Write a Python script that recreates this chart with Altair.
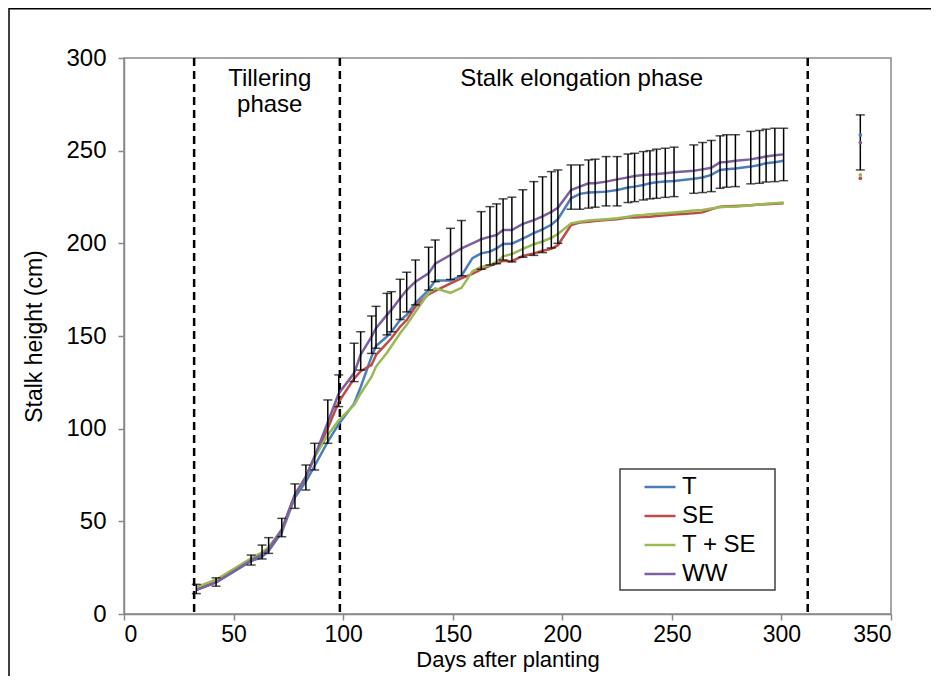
import altair as alt
import pandas as pd

# ---------------- data ----------------
days = [33, 42, 58, 63, 66, 72, 78, 83, 87, 93,
        98, 105, 108, 113, 115, 120, 122, 126, 129, 133,
        139, 142, 149, 154, 159, 163, 167, 170, 173, 177,
        182, 187, 191, 195, 198, 204, 208, 212, 215, 220,
        225, 230, 233, 237, 240, 243, 247, 251, 260, 264,
        268, 272, 275, 279, 286, 290, 293, 297, 301]

t_vals = [13, 17, 28.5, 30.8, 34, 44, 63, 71.5, 80, 93,
          102.5, 113.5, 122.5, 139, 144.6, 149.7, 152.3, 158.6, 161.4, 167.7,
          174.8, 179.9, 179.9, 182.5, 192, 194.6, 195.5, 197.3, 199.6, 199.8,
          202.6, 205.5, 207.5, 210, 213, 224.3, 226.7, 227.4, 227.6, 227.9,
          228.8, 230.1, 230.6, 231.5, 232.4, 232.9, 233.3, 233.6, 234.8, 235.5,
          236.9, 239.6, 240, 240.4, 241.4, 242.3, 243.2, 243.8, 244.5]

se_vals = [13, 17.5, 29, 31.8, 35, 45.3, 64.2, 74, 85, 100.2,
           114.5, 127, 131, 134.4, 139.8, 146.1, 148.8, 155, 158.6, 165.9,
           172.5, 174.3, 178.4, 181.1, 183.5, 186, 187.8, 189.2, 190.5, 190.4,
           193.2, 194.5, 196, 197, 199, 209.9, 211.2, 211.7, 212.1, 212.6,
           213, 213.9, 214, 214.2, 214.4, 214.8, 215.1, 215.5, 216.2, 216.7,
           218.4, 219.8, 220, 220.2, 220.6, 220.9, 221.1, 221.4, 221.6]

tse_vals = [14.5, 18.5, 30, 33.3, 36, 45.5, 64.5, 74, 84.5, 96.6,
            104.5, 112.8, 119, 128, 133.5, 141, 144.5, 151.5, 156, 163,
            173.2, 175.7, 173.3, 176, 185, 187.2, 188.3, 190, 193, 194.2,
            197, 199.5, 201, 203, 205, 210.8, 211.7, 212.3, 212.6, 213,
            213.5, 214.4, 215, 215.3, 215.7, 215.9, 216.2, 216.6, 217.7, 218,
            218.8, 219.5, 219.7, 219.8, 220.6, 220.9, 221.3, 221.6, 222]

ww_vals = [13, 17, 29, 32, 35, 45.5, 64.5, 74, 85, 103.5,
           119, 130, 140, 149.7, 154.2, 161.4, 164.1, 170.4, 174.8, 179.3,
           183.8, 189, 193.7, 197.3, 200, 202.2, 203.6, 204.5, 207.2, 207.2,
           210.5, 212.5, 214.5, 217, 219.2, 228.8, 230.6, 232.4, 232.4, 233.3,
           234.5, 235.6, 236.3, 236.9, 237.2, 237.4, 237.8, 238.3, 239.2, 239.9,
           240.8, 243.7, 243.9, 244.5, 245.3, 246.2, 246.8, 247.5, 248]

err_low = [11, 15, 26.4, 29.7, 32.7, 41.7, 57, 66.9, 77.7, 92.1,
           111.9, 125.4, 131.6, 140.6, 143.4, 150.6, 152.3, 158.9, 163, 166.8,
           174.8, 179.3, 180.5, 182.5, None, 186, 188.3, 189, 191, 190,
           192.5, 193.5, 195, 197.5, 200, 218.4, 218.4, 219, 219.5, 220.2,
           220.2, 222, 222.5, 223.4, 224, 224.3, 224.8, 225.2, 227, 227.4,
           227.9, 229.7, 230.3, 230.6, 232.1, 232.4, 233.1, 233.3, 233.8]

err_high = [16, 19.5, 31.8, 37.2, 41.2, 51.6, 70.2, 80.4, 92.1, 115.5,
            129, 146.1, 152.3, 160.8, 166, 173, 173.9, 180.6, 184.4, 191,
            197.9, 201.8, 208.1, 212.3, None, 217.1, 219.8, 221.3, 224, 224.9,
            228.9, 233.3, 235.9, 238.7, 239.6, 242.3, 242.3, 245, 245.4, 246.8,
            246.8, 248.2, 248.6, 249.5, 250, 250.8, 251.3, 251.9, 253.1, 254.4,
            255.5, 258, 258.6, 258.6, 260.4, 260.9, 261.6, 262.1, 262.1]

# final (harvest) measurement, shown as isolated points
final_day = 336
final_vals = [258.5, 235.1, 236.9, 254.4]
final_err = (239.6, 269.3)

series_names = ["T", "SE", "T + SE", "WW"]
series_colors = ["#4A7EBB", "#BE4B48", "#98B954", "#7D60A0"]

phase_bounds = [32, 98.5, 312]
phase_labels = ["Tillering", "phase", "Stalk elongation phase"]
phase_label_x = [66.5, 66.5, 208.8]
phase_label_y = [284.9, 270.9, 284.9]

x_ticks = [0, 50, 100, 150, 200, 250, 300, 350]
y_ticks = [0, 50, 100, 150, 200, 250, 300]

# ---------------- tables ----------------
rows = []
for name, vals in zip(series_names, [t_vals, se_vals, tse_vals, ww_vals]):
    for d, v in zip(days, vals):
        rows.append({"day": d, "height": v, "series": name})
lines_df = pd.DataFrame(rows)

err_rows = [{"day": d, "lo": lo, "hi": hi}
            for d, lo, hi in zip(days, err_low, err_high) if lo is not None]
err_rows.append({"day": final_day, "lo": final_err[0], "hi": final_err[1]})
err_df = pd.DataFrame(err_rows)

final_df = pd.DataFrame({"day": [final_day] * 4, "height": final_vals,
                         "series": series_names})
phase_df = pd.DataFrame({"day": phase_bounds})
label_df = pd.DataFrame({"x": phase_label_x, "y": phase_label_y, "text": phase_labels})
dummy = pd.DataFrame({"a": [0]})

FONT = "Liberation Sans"
xs = alt.Scale(domain=[0, 350], nice=False)
ys = alt.Scale(domain=[0, 300], nice=False)

x_enc = alt.X("day:Q", scale=xs,
              axis=alt.Axis(title="Days after planting", values=x_ticks, grid=False))
y_enc = alt.Y("height:Q", scale=ys,
              axis=alt.Axis(title="Stalk height (cm)", values=y_ticks, grid=False))

outer = alt.Chart(dummy).mark_rect(fill="transparent", stroke="black", strokeWidth=1.5).encode(
    x=alt.value(-115), x2=alt.value(900), y=alt.value(-49.25), y2=alt.value(700))

lines = alt.Chart(lines_df).mark_line(strokeWidth=2.5).encode(
    x=x_enc, y=y_enc,
    color=alt.Color("series:N", sort=series_names,
                    scale=alt.Scale(domain=series_names, range=series_colors),
                    legend=alt.Legend(title=None, orient="none", legendX=519, legendY=412,
                                      symbolType="stroke", symbolSize=960,
                                      symbolStrokeWidth=2.5, labelFontSize=24,
                                      labelFont=FONT, labelColor="black",
                                      labelOffset=5, rowPadding=0, padding=0)),
    detail="series:N")

bars = alt.Chart(err_df).mark_rule(color="black", strokeWidth=1.5).encode(
    x=alt.X("day:Q", scale=xs), y=alt.Y("lo:Q", scale=ys), y2="hi:Q")
caps_lo = alt.Chart(err_df).mark_tick(color="black", thickness=1.5, size=9,
                                      orient="horizontal").encode(
    x=alt.X("day:Q", scale=xs), y=alt.Y("lo:Q", scale=ys))
caps_hi = alt.Chart(err_df).mark_tick(color="black", thickness=1.5, size=9,
                                      orient="horizontal").encode(
    x=alt.X("day:Q", scale=xs), y=alt.Y("hi:Q", scale=ys))

final_pts = alt.Chart(final_df).mark_point(filled=True, size=14, opacity=1).encode(
    x=alt.X("day:Q", scale=xs), y=alt.Y("height:Q", scale=ys),
    fill=alt.Fill("series:N", scale=alt.Scale(domain=series_names, range=series_colors),
                  legend=None))

phases = alt.Chart(phase_df).mark_rule(color="black", strokeWidth=2.5,
                                       strokeDash=[8, 5]).encode(
    x=alt.X("day:Q", scale=xs))

labels = alt.Chart(label_df).mark_text(font=FONT, fontSize=24, align="center",
                                       baseline="alphabetic", color="black").encode(
    x=alt.X("x:Q", scale=xs), y=alt.Y("y:Q", scale=ys), text="text:N")

legend_box = alt.Chart(dummy).mark_rect(fill="transparent", stroke="#404040",
                                        strokeWidth=1.5).encode(
    x=alt.value(496), x2=alt.value(651), y=alt.value(411), y2=alt.value(532))

chart = alt.layer(outer, phases, lines, bars, caps_lo, caps_hi, final_pts, labels,
                  legend_box).properties(
    width=767, height=556,
    autosize=alt.AutoSizeParams(type="none"),
    padding={"left": 116, "top": 50, "right": 40, "bottom": 62},
    background="white",
).configure_view(
    stroke="#898989", strokeWidth=1.5
).configure_axis(
    domainColor="#898989", domainWidth=1.5, tickColor="#898989", tickWidth=1.5,
    tickSize=6, labelFont=FONT, labelFontSize=24, labelColor="black",
    titleFont=FONT, titleFontSize=22, titleFontWeight="normal", titleColor="black",
).configure_axisX(
    labelPadding=3, labelFontSize=23, titlePadding=3
).configure_axisY(
    labelPadding=12, titlePadding=19, titleFontSize=23
)

chart.save("out.html", embed_options={"renderer": "svg", "actions": False})
